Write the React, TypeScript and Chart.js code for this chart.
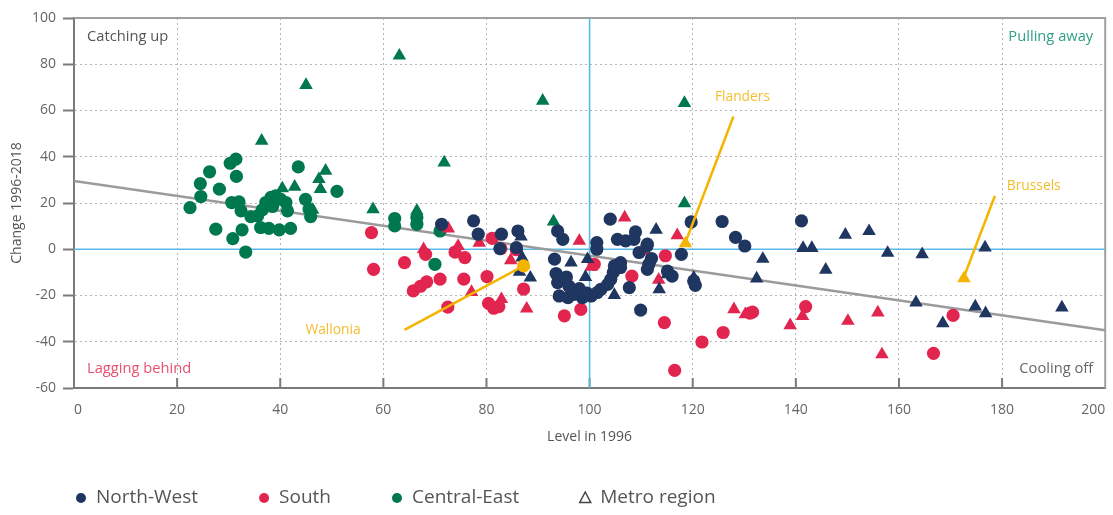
import React, { useEffect, useRef } from "react";
import { Chart, registerables } from "chart.js";

Chart.register(...registerables);

type Pt = [number, number];

const X_MIN = 0;
const X_MAX = 200;
const Y_MIN = -60;
const Y_MAX = 100;
const TICK_STEP = 20;

const NW_CIRCLES: Pt[] = [
  [71.3, 10.8], [77.5, 12.3], [78.4, 6.5], [82.9, 6.5], [82.6, 0.3], [86.1, 7.9], [85.8, 0.7],
  [93.8, 7.9], [94.8, 4.3], [93.2, -4.3], [93.5, -10.5], [93.8, -14.4], [94.1, -20.2], [95.8, -20.9],
  [97.0, -19.5], [98.6, -20.9], [100.3, -20.2], [101.5, -18.7], [102.2, -17.3], [103.5, -15.2],
  [104.1, -13.0], [104.6, -10.0], [104.8, -7.2], [106.0, -5.8], [106.0, -7.9], [101.4, 2.9],
  [101.4, 0.0], [104.0, 13.0], [105.4, 4.3], [107.0, 3.6], [108.6, 4.3], [108.9, 7.5], [111.2, 2.2],
  [109.6, -1.4], [111.1, 1.4], [111.5, -6.5], [111.2, -8.7], [107.7, -16.6], [109.9, -26.3],
  [115.1, -9.4], [116.0, -11.6], [117.8, -2.2], [119.7, 11.8], [120.2, -13.7], [120.5, -15.6],
  [125.7, 12.0], [128.3, 5.1], [130.1, 1.4], [141.1, 12.3], [96.0, -16.0], [95.5, -12.0],
  [98.0, -17.0], [99.5, -19.0], [112.0, -4.0],
];
const NW_TRIANGLES: Pt[] = [
  [86.7, 5.5], [86.9, -3.6], [86.4, -9.8], [88.5, -12.3], [96.4, -5.8], [99.6, -4.3], [99.2, -12.0],
  [104.8, -19.8], [112.9, 8.4], [115.1, -10.8], [113.5, -17.3], [120.2, -12.3], [133.6, -4.2],
  [132.4, -12.7], [145.8, -8.9], [141.4, 0.5], [143.1, 0.5], [149.6, 6.2], [154.2, 7.8],
  [157.8, -1.6], [164.5, -2.2], [176.7, 0.7], [163.3, -23.1], [168.5, -32.0], [174.8, -24.8],
  [176.8, -27.7], [191.6, -25.2],
];
const S_CIRCLES: Pt[] = [
  [57.7, 7.2], [58.1, -8.7], [64.1, -5.8], [65.8, -18.0], [67.2, -16.0], [68.4, -14.1], [71.0, -12.9],
  [73.9, -1.2], [75.8, -3.6], [75.6, -12.9], [80.1, -11.8], [72.5, -25.0], [81.1, 4.7], [82.8, 0.3],
  [85.8, -0.2], [87.2, -17.2], [80.4, -23.4], [81.4, -25.5], [82.4, -24.8], [95.1, -28.8],
  [98.3, -26.0], [100.9, -6.5], [108.2, -11.6], [114.7, -2.8], [114.5, -31.7], [116.5, -52.4],
  [121.8, -40.1], [125.9, -36.0], [131.1, -27.6], [131.6, -27.2], [141.9, -24.8], [166.7, -45.0],
  [170.5, -28.6], [68.2, -2.2],
];
const S_TRIANGLES: Pt[] = [
  [67.8, 0.0], [72.6, 8.9], [74.5, 1.4], [78.6, 2.8], [77.1, -18.5], [84.7, -4.8], [82.9, -21.6],
  [87.8, -25.7], [98.0, 3.6], [100.3, -7.6], [106.8, 13.7], [110.6, -0.7], [117.0, 6.0],
  [113.4, -13.2], [128.0, -26.0], [130.2, -28.1], [138.9, -32.9], [141.3, -28.9], [150.1, -31.0],
  [155.9, -27.4], [156.7, -45.5],
];
const CE_CIRCLES: Pt[] = [
  [22.5, 18.0], [24.5, 28.4], [24.6, 22.8], [26.3, 33.5], [28.2, 26.0], [27.5, 8.7], [30.3, 37.2],
  [31.4, 39.0], [31.5, 31.5], [30.6, 20.2], [32.0, 20.5], [32.4, 16.6], [34.3, 14.1], [35.6, 14.4],
  [37.2, 20.2], [38.2, 22.4], [39.1, 23.1], [40.1, 21.6], [41.1, 20.2], [41.4, 16.6], [30.8, 4.6],
  [32.6, 8.4], [33.3, -1.2], [36.2, 9.4], [37.8, 9.0], [39.8, 8.4], [42.0, 9.0], [43.5, 35.6],
  [44.9, 21.6], [45.6, 17.3], [45.9, 14.1], [51.0, 25.0], [36.5, 17.0], [38.5, 18.5], [62.2, 13.3],
  [62.2, 10.1], [66.5, 13.7], [66.5, 10.8], [71.0, 7.9], [70.0, -6.5],
];
const CE_TRIANGLES: Pt[] = [
  [45.0, 71.0], [36.4, 46.9], [48.8, 33.9], [47.5, 30.3], [42.8, 27.0], [40.4, 26.3], [47.8, 26.0],
  [46.3, 17.0], [63.1, 83.7], [90.9, 64.2], [71.8, 37.5], [58.0, 17.3], [66.5, 16.6], [93.0, 12.0],
  [118.4, 63.2], [118.4, 19.9],
];

const REGRESSION: Pt[] = [[0, 29.5], [200, -35]];
const FLANDERS_POINT: Pt[] = [[118.6, 2.5]];
const BRUSSELS_POINT: Pt[] = [[172.6, -12.6]];
const WALLONIA_POINT: Pt[] = [[87.2, -7.2]];
const FLANDERS_LINE: Pt[] = [[118.6, 3], [127.9, 57.4]];
const BRUSSELS_LINE: Pt[] = [[172.6, -12], [178.6, 23]];
const WALLONIA_LINE: Pt[] = [[87.2, -7.2], [64.1, -34.9]];
const V_LINE: Pt[] = [[100, Y_MIN], [100, Y_MAX]];
const H_LINE: Pt[] = [[X_MIN, 0], [X_MAX, 0]];

const NAVY = "#1f3661";
const RED = "#e2254e";
const GREEN = "#00784e";
const YELLOW = "#f5b400";
const BLUE = "#5bbbe8";
const FONT = "'Open Sans', sans-serif";

const LEGEND_ITEMS = [
  { label: "North-West", color: NAVY, shape: "dot" },
  { label: "South", color: RED, shape: "dot" },
  { label: "Central-East", color: GREEN, shape: "dot" },
  { label: "Metro region", color: "#444", shape: "tri" },
];

const toXY = (arr: Pt[]) => arr.map(([x, y]) => ({ x, y }));

const decorPlugin = {
  id: "decor",
  beforeDatasetsDraw(chart: any) {
    const { ctx, chartArea: a, scales } = chart;
    const xs = scales.x;
    ctx.save();
    ctx.strokeStyle = "#a0a0a0";
    ctx.lineWidth = 2;
    ctx.beginPath();
    ctx.moveTo(a.left, a.top);
    ctx.lineTo(a.right, a.top);
    ctx.lineTo(a.right, a.bottom);
    ctx.stroke();
    ctx.strokeStyle = "#7a7a7a";
    for (let v = X_MIN + TICK_STEP; v < X_MAX; v += TICK_STEP) {
      const px = xs.getPixelForValue(v);
      ctx.beginPath();
      ctx.moveTo(px, a.bottom);
      ctx.lineTo(px, a.bottom - 10);
      ctx.stroke();
    }
    ctx.restore();
  },
  afterDatasetsDraw(chart: any) {
    const { ctx, chartArea: a, scales } = chart;
    const xs = scales.x;
    const ys = scales.y;
    ctx.save();
    ctx.font = `14.7px ${FONT}`;
    ctx.textBaseline = "middle";
    ctx.textAlign = "left";
    ctx.fillStyle = "#555";
    ctx.fillText("Catching up", a.left + 13, a.top + 19);
    ctx.fillStyle = "#e8506e";
    ctx.fillText("Lagging behind", a.left + 13, a.bottom - 19);
    ctx.textAlign = "right";
    ctx.fillStyle = "#2f9f86";
    ctx.fillText("Pulling away", a.right - 12, a.top + 19);
    ctx.fillStyle = "#666";
    ctx.fillText("Cooling off", a.right - 12, a.bottom - 19);

    ctx.font = `13.8px ${FONT}`;
    ctx.fillStyle = "#f4bd2e";
    ctx.textAlign = "left";
    ctx.fillText("Flanders", xs.getPixelForValue(124.3), ys.getPixelForValue(65.9));
    ctx.fillText("Brussels", xs.getPixelForValue(180.9), ys.getPixelForValue(27.4));
    ctx.textAlign = "right";
    ctx.fillText("Wallonia", xs.getPixelForValue(55.6), ys.getPixelForValue(-35.1));
    ctx.restore();
  },
  afterDraw(chart: any) {
    const { ctx } = chart;
    ctx.save();
    ctx.font = `19px ${FONT}`;
    ctx.textBaseline = "middle";
    ctx.textAlign = "left";
    const cy = 498;
    let x = 75;
    for (const it of LEGEND_ITEMS) {
      const mx = x + 6;
      if (it.shape === "dot") {
        ctx.fillStyle = it.color;
        ctx.beginPath();
        ctx.arc(mx, cy, 5, 0, Math.PI * 2);
        ctx.fill();
      } else {
        ctx.strokeStyle = it.color;
        ctx.lineWidth = 1.5;
        ctx.beginPath();
        ctx.moveTo(mx, cy - 6);
        ctx.lineTo(mx + 5.5, cy + 4.5);
        ctx.lineTo(mx - 5.5, cy + 4.5);
        ctx.closePath();
        ctx.stroke();
      }
      ctx.fillStyle = "#555";
      ctx.fillText(it.label, x + 21, cy);
      const w = ctx.measureText(it.label).width;
      x = x + 21 + w + 60;
    }
    ctx.restore();
  },
};

function scatterSet(label: string, data: Pt[], color: string, style: string, order: number) {
  return {
    type: "scatter" as const,
    label,
    data: toXY(data),
    backgroundColor: color,
    borderColor: color,
    borderWidth: 0,
    pointStyle: style,
    pointRadius: style === "triangle" ? 7.8 : 6.6,
    pointHoverRadius: style === "triangle" ? 7.8 : 6.6,
    order,
  };
}

function lineSet(label: string, data: Pt[], color: string, width: number, order: number) {
  return {
    type: "line" as const,
    label,
    data: toXY(data),
    borderColor: color,
    backgroundColor: color,
    borderWidth: width,
    pointRadius: 0,
    fill: false,
    tension: 0,
    order,
  };
}

export default function App() {
  const ref = useRef<HTMLCanvasElement | null>(null);

  useEffect(() => {
    if (!ref.current) return;
    const chart = new Chart(ref.current, {
      data: {
        datasets: [
          scatterSet("Flanders", FLANDERS_POINT, YELLOW, "triangle", 0),
          scatterSet("Brussels", BRUSSELS_POINT, YELLOW, "triangle", 0),
          scatterSet("Wallonia", WALLONIA_POINT, YELLOW, "circle", 0),
          lineSet("Flanders line", FLANDERS_LINE, YELLOW, 2.5, 1),
          lineSet("Brussels line", BRUSSELS_LINE, YELLOW, 2.5, 1),
          lineSet("Wallonia line", WALLONIA_LINE, YELLOW, 2.5, 1),
          scatterSet("North-West metro", NW_TRIANGLES, NAVY, "triangle", 2),
          scatterSet("North-West", NW_CIRCLES, NAVY, "circle", 3),
          scatterSet("South metro", S_TRIANGLES, RED, "triangle", 4),
          scatterSet("South", S_CIRCLES, RED, "circle", 5),
          scatterSet("Central-East metro", CE_TRIANGLES, GREEN, "triangle", 6),
          scatterSet("Central-East", CE_CIRCLES, GREEN, "circle", 7),
          lineSet("Trend", REGRESSION, "#9b9b9b", 2.5, 10),
          lineSet("x = 100", V_LINE, BLUE, 1.6, 11),
          lineSet("y = 0", H_LINE, BLUE, 1.6, 11),
        ] as any,
      },
      options: {
        animation: false,
        responsive: false,
        layout: { padding: { left: 0, right: 4, top: 18, bottom: 70 } },
        plugins: {
          legend: { display: false },
          tooltip: { enabled: false },
        },
        scales: {
          x: {
            type: "linear",
            min: X_MIN,
            max: X_MAX,
            afterFit: (s: any) => {
              s.height = 57;
              s.paddingLeft = 0;
              s.paddingRight = 0;
            },
            ticks: {
              stepSize: TICK_STEP,
              align: "inner",
              padding: 14,
              color: "#666",
              font: { family: FONT, size: 14 },
            },
            grid: { color: "#b5b5b5", lineWidth: 1, drawTicks: false },
            border: { display: true, color: "#7a7a7a", width: 2, dash: [2, 3] },
            title: {
              display: true,
              text: "Level in 1996",
              color: "#555",
              font: { family: FONT, size: 14 },
              padding: { top: 8, bottom: 0 },
            },
          },
          y: {
            type: "linear",
            min: Y_MIN,
            max: Y_MAX,
            afterFit: (s: any) => {
              s.width = 74;
            },
            ticks: {
              stepSize: TICK_STEP,
              padding: 7,
              color: "#666",
              font: { family: FONT, size: 14 },
            },
            grid: {
              color: "#b5b5b5",
              lineWidth: 1,
              drawTicks: true,
              tickLength: 11,
              tickColor: "#7a7a7a",
              tickWidth: 2,
            },
            border: { display: true, color: "#7a7a7a", width: 2, dash: [2, 3] },
            title: {
              display: true,
              text: "Change 1996-2018",
              color: "#555",
              font: { family: FONT, size: 14 },
              padding: { top: 9, bottom: 0 },
            },
          },
        },
      } as any,
      plugins: [decorPlugin],
    });
    return () => chart.destroy();
  }, []);

  return (
    <div style={{ position: "absolute", left: 0, top: 0, width: 1113, height: 515, overflow: "hidden" }}>
      <canvas ref={ref} width={1113} height={515} style={{ display: "block" }} />
    </div>
  );
}
